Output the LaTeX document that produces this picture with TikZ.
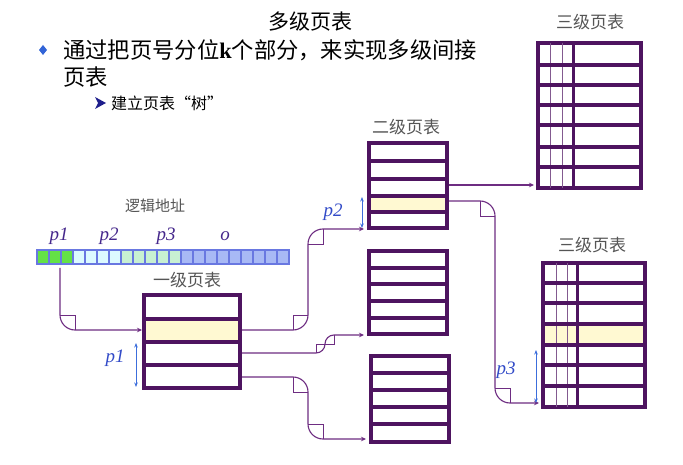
\documentclass[tikz,border=0pt]{standalone}
\usepackage{fontspec}
\newfontfamily\cjk{Noto Sans CJK SC}
\newfontfamily\serif{Liberation Serif}
\usetikzlibrary{arrows.meta}
\definecolor{tabc}{RGB}{78,20,96}
\definecolor{conc}{RGB}{110,45,130}
\definecolor{hil}{RGB}{255,249,210}
\definecolor{pblue}{RGB}{50,75,200}
\definecolor{arrblue}{RGB}{60,110,220}
\definecolor{plab}{RGB}{70,40,140}
\definecolor{glab}{RGB}{85,85,85}
\definecolor{cgreen}{RGB}{100,225,70}
\definecolor{ccyan}{RGB}{220,250,255}
\definecolor{cpale}{RGB}{200,240,210}
\definecolor{clav}{RGB}{168,185,245}
\definecolor{cbord}{RGB}{105,120,225}
\definecolor{bul}{RGB}{50,100,215}
\definecolor{dblue}{RGB}{30,30,140}
\begin{document}
\begin{tikzpicture}[x=1pt,y=-1pt,
 tbl/.style={draw=tabc, line width=3.8pt, outer sep=0pt, inner sep=0pt},
 rowline/.style={draw=tabc, line width=3.4pt},
 thincol/.style={draw=tabc!70, line width=1pt},
 thickcol/.style={draw=tabc, line width=3pt},
 conn/.style={draw=conc, line width=1.1pt},
 connarr/.style={conn, -{Stealth[length=5pt,width=4.5pt]}},
 cbox/.style={draw=conc, line width=0.8pt},
 dimarr/.style={draw=arrblue, line width=0.8pt, {Stealth[length=4.5pt,width=3.5pt]}-{Stealth[length=4.5pt,width=3.5pt]}},
 tlabel/.style={text=glab, font=\cjk\fontsize{17}{17}\selectfont},
 plbl/.style={text=pblue, font=\serif\itshape\fontsize{19}{19}\selectfont},
 alabel/.style={text=plab, font=\serif\itshape\fontsize{19}{19}\selectfont},
]
\path[use as bounding box, fill=white] (0,0) rectangle (683,465);

% ---- title and bullets
\node[font=\cjk\fontsize{21}{21}\selectfont] (title) at (310,22) {多级页表};
\fill[bul] (43,45) -- (47,50) -- (43,55) -- (39,50) -- cycle;
\node[anchor=west, inner sep=0pt, font=\cjk\fontsize{22.3}{22}\selectfont] (b1) at (63,50) {通过把页号分位{\serif\bfseries k}个部分，来实现多级间接};
\node[anchor=west, inner sep=0pt, font=\cjk\fontsize{22.3}{22}\selectfont] (b1b) at (63,77) {页表};
\fill[dblue] (95,97) -- (106,103) -- (95,109) -- (98,103) -- cycle;
\node[anchor=west, inner sep=0pt, font=\cjk\fontsize{16}{16}\selectfont] (b2) at (111,103) {建立页表“树”};

% ---- logical address
\node[tlabel, font=\cjk\fontsize{15}{15}\selectfont] (lad) at (155,206) {逻辑地址};
\node[alabel] (ap1) at (59,236) {p1};
\node[alabel] (ap2) at (109,236) {p2};
\node[alabel] (ap3) at (166,236) {p3};
\node[alabel] (ao) at (225,236) {o};
\foreach \i in {0,...,20} {
  \pgfmathsetmacro\xa{37+12*\i}
  \ifnum\i<3 \def\cc{cgreen}\else\ifnum\i<7 \def\cc{ccyan}\else\ifnum\i<12 \def\cc{cpale}\else\def\cc{clav}\fi\fi\fi
  \draw[draw=cbord, line width=1.2pt, fill=\cc] (\xa,250) rectangle (\xa+12,264);
}
\draw[draw=cbord, line width=1.4pt] (37,250) rectangle (289,264);

% ---- named points
\coordinate (s1) at (60,268);
\coordinate (t1in) at (142,330);
\coordinate (t1r2) at (240,330);
\coordinate (t1r3) at (240,353);
\coordinate (t1r4) at (240,377);
\coordinate (t2ain) at (364,229);
\coordinate (t2bin) at (364,335);
\coordinate (t2cin) at (366,439);
\coordinate (t2ar3) at (447,185);
\coordinate (t2ar4) at (447,201);
\coordinate (t3ain) at (534,185);
\coordinate (t3bin) at (539,403);

% ---- connectors
\draw[connarr, rounded corners=15pt] (s1) -- (60,330) -- (t1in);
\draw[cbox] (60,315) -- (75,315) -- (75,330);

\draw[connarr, rounded corners=15pt] (t1r2) -- (308,330) -- (308,229) -- (t2ain);
\draw[cbox] (293,330) -- (293,315) -- (308,315);
\draw[cbox] (308,244) -- (323,244) -- (323,229);

\draw[connarr, rounded corners=9pt] (t1r3) -- (325,353) -- (325,335) -- (t2bin);
\draw[cbox] (316,353) -- (316,344) -- (334,344) -- (334,335);

\draw[connarr, rounded corners=15pt] (t1r4) -- (308,377) -- (308,439) -- (t2cin);
\draw[cbox] (293,377) -- (293,392) -- (308,392);
\draw[cbox] (308,424) -- (323,424) -- (323,439);

\draw[connarr] (t2ar3) -- (t3ain);

\draw[connarr, rounded corners=15pt] (t2ar4) -- (495,201) -- (495,403) -- (t3bin);
\draw[cbox] (480,201) -- (480,216) -- (495,216);
\draw[cbox] (495,388) -- (510,388) -- (510,403);

% ---- first level table
\fill[hil] (144,319) rectangle (240,342);
\node[tbl, minimum width=96pt, minimum height=93pt] (t1) at (192,341.5) {};
\foreach \yy in {319,342,365} \draw[rowline] (144,\yy) -- (240,\yy);
\node[tlabel] (l1) at (187,280) {一级页表};

% ---- second level tables
\fill[hil] (369,196) rectangle (447,212);
\node[tbl, minimum width=78pt, minimum height=85pt] (t2a) at (408,185.5) {};
\foreach \yy in {161,179,196,212} \draw[rowline] (369,\yy) -- (447,\yy);
\node[tlabel] (l2) at (406,127) {二级页表};

\node[tbl, minimum width=78pt, minimum height=83pt] (t2b) at (408,292.5) {};
\foreach \yy in {268,284,301,318} \draw[rowline] (369,\yy) -- (447,\yy);

\node[tbl, minimum width=78pt, minimum height=86pt] (t2c) at (410,399) {};
\foreach \yy in {373,390,407,424} \draw[rowline] (371,\yy) -- (449,\yy);

% ---- third level tables
\node[tbl, minimum width=103pt, minimum height=145pt] (t3a) at (589.5,115.5) {};
\foreach \xx in {550,562} \draw[thincol] (\xx,43) -- (\xx,188);
\draw[thickcol] (573,43) -- (573,188);
\foreach \yy in {65,85,105,125,147,167} \draw[rowline] (538,\yy) -- (641,\yy);
\node[tlabel] (l3a) at (590,22) {三级页表};

\fill[hil] (543,324) rectangle (645,345);
\node[tbl, minimum width=102pt, minimum height=144pt] (t3b) at (594,335) {};
\foreach \xx in {556,567} \draw[thincol] (\xx,263) -- (\xx,407);
\draw[thickcol] (577,263) -- (577,407);
\foreach \yy in {283,303,324,345,365,386} \draw[rowline] (543,\yy) -- (645,\yy);
\node[tlabel] (l3b) at (592,245) {三级页表};

% ---- offsets
\coordinate (d1a) at (136,343); \coordinate (d1b) at (136,387);
\coordinate (d2a) at (362,197); \coordinate (d2b) at (362,228);
\coordinate (d3a) at (536,350); \coordinate (d3b) at (536,403);
\draw[dimarr] (d1a) -- (d1b);
\draw[dimarr] (d2a) -- (d2b);
\draw[dimarr] (d3a) -- (d3b);
\node[plbl] (lp1) at (115,358) {p1};
\node[plbl] (lp2) at (333,212) {p2};
\node[plbl] (lp3) at (506,370) {p3};
\end{tikzpicture}
\end{document}
